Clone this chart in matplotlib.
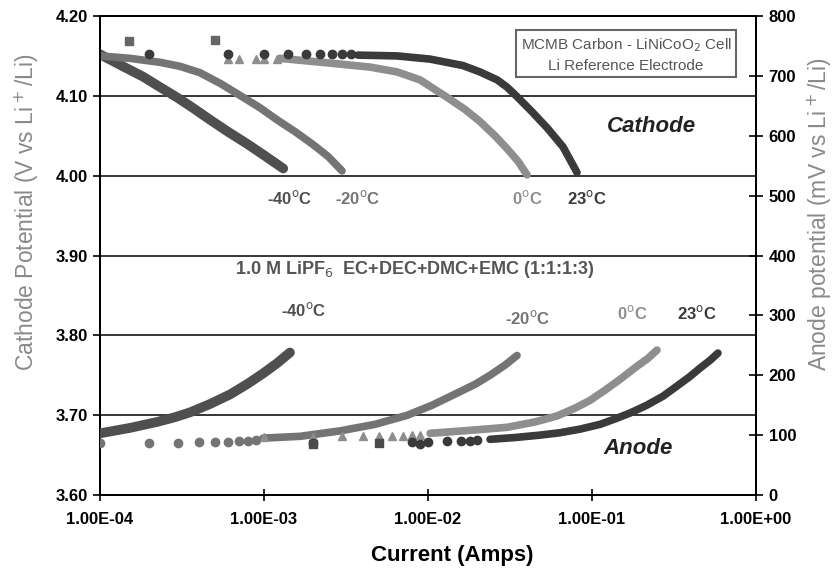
import matplotlib.pyplot as plt
from matplotlib.ticker import FixedLocator, FuncFormatter

plt.rcParams['font.family'] = ['Liberation Sans', 'DejaVu Sans']

# cathode curves (current in A, potential in V)
cath_m40_i = [1.0e-4, 1.32e-4, 1.83e-4, 2.32e-4, 2.95e-4, 3.74e-4, 4.69e-4, 6.03e-4, 7.87e-4, 1.01e-3, 1.31e-3]
cath_m40_v = [4.152, 4.139, 4.124, 4.111, 4.098, 4.084, 4.070, 4.055, 4.040, 4.025, 4.009]

cath_m20_i = [1.0e-4, 1.52e-4, 2.32e-4, 3.07e-4, 4.07e-4, 5.47e-4, 7.34e-4, 9.46e-4, 1.2e-3, 1.55e-3,
              1.99e-3, 2.46e-3, 2.99e-3]
cath_m20_v = [4.150, 4.147, 4.142, 4.137, 4.129, 4.115, 4.099, 4.085, 4.070, 4.055, 4.039, 4.024, 4.006]

cath_0_i = [1.25e-3, 2.53e-3, 4.43e-3, 6.47e-3, 8.94e-3, 1.31e-2, 1.68e-2, 2.07e-2, 2.56e-2, 3.03e-2,
            3.54e-2, 4.02e-2]
cath_0_v = [4.147, 4.141, 4.136, 4.130, 4.120, 4.098, 4.083, 4.068, 4.050, 4.034, 4.018, 4.001]

cath_23_i = [3.74e-3, 6.47e-3, 1.03e-2, 1.63e-2, 2.07e-2, 2.64e-2, 3.03e-2, 3.49e-2, 4.31e-2, 5.32e-2,
             6.66e-2, 8.1e-2]
cath_23_v = [4.151, 4.150, 4.146, 4.138, 4.130, 4.120, 4.111, 4.099, 4.080, 4.060, 4.036, 4.004]

# sparse first points (cathode)
cath_23_pts_i = [2.0e-4, 6.0e-4, 1.0e-3, 1.4e-3, 1.8e-3, 2.2e-3, 2.6e-3, 3.0e-3, 3.4e-3]
cath_23_pts_v = [4.153, 4.153, 4.153, 4.152, 4.152, 4.152, 4.152, 4.152, 4.152]
cath_0_pts_i = [6.0e-4, 7.0e-4, 9.0e-4, 1.0e-3, 1.2e-3]
cath_0_pts_v = [4.146, 4.146, 4.146, 4.146, 4.146]
cath_sq_i = [1.5e-4, 5.0e-4]
cath_sq_v = [4.169, 4.170]

# anode curves (current in A, potential in mV)
an_m40_i = [1.0e-4, 1.52e-4, 2.23e-4, 2.87e-4, 3.54e-4, 4.69e-4, 6.21e-4, 7.87e-4, 9.87e-4, 1.2e-3, 1.44e-3]
an_m40_mv = [103, 112, 122, 130, 138, 152, 168, 185, 203, 220, 238]

an_m20_pts_i = [1e-4, 2e-4, 3e-4, 4e-4, 5e-4, 6e-4, 7e-4, 8e-4, 9e-4]
an_m20_pts_mv = [87, 87, 87, 88, 88, 89, 90, 91, 92]
an_m20_i = [9.87e-4, 1.66e-3, 2.9e-3, 4.75e-3, 7.45e-3, 1.06e-2, 1.5e-2, 1.94e-2, 2.39e-2, 2.95e-2, 3.49e-2]
an_m20_mv = [95, 98, 107, 118, 133, 150, 170, 185, 200, 217, 233]

an_0_pts_i = [1e-3, 2e-3, 3e-3, 4e-3, 5e-3, 6e-3, 7e-3, 8e-3, 9e-3]
an_0_pts_mv = [97, 97, 98, 98, 98, 99, 99, 100, 100]
an_0_i = [1.03e-2, 1.8e-2, 3.03e-2, 4.49e-2, 6.12e-2, 7.87e-2, 9.72e-2, 1.2e-1, 1.48e-1, 1.88e-1,
          2.19e-1, 2.49e-1]
an_0_mv = [103, 108, 113, 122, 132, 145, 158, 175, 193, 215, 228, 242]

an_23_pts_i = [2e-3, 8e-3, 9e-3, 1e-2, 1.3e-2, 1.6e-2, 1.8e-2, 2.0e-2]
an_23_pts_mv = [87, 88, 86, 88, 90, 91, 91, 92]
an_23_i = [2.39e-2, 3.39e-2, 4.82e-2, 6.38e-2, 8.45e-2, 1.12e-1, 1.38e-1, 1.71e-1, 2.16e-1, 2.71e-1,
           3.3e-1, 3.96e-1, 4.56e-1, 5.25e-1, 5.86e-1]
an_23_mv = [93, 96, 100, 104, 110, 118, 127, 137, 150, 165, 182, 198, 212, 225, 237]

an_sq_i = [2e-3, 5e-3]
an_sq_mv = [85, 87]

x_ticks = [1e-4, 1e-3, 1e-2, 1e-1, 1e0]
x_labels = ['1.00E-04', '1.00E-03', '1.00E-02', '1.00E-01', '1.00E+00']

c_m40 = '#4f4f4f'
c_m20 = '#747474'
c_0 = '#8e8e8e'
c_23 = '#3a3a3a'

fig = plt.figure(figsize=(8.36, 5.73), dpi=100)
ax = fig.add_axes([100 / 836, 1 - 495 / 573, 656 / 836, 479 / 573])
ax2 = ax.twinx()

ax.set_xscale('log')
ax.set_xlim(1e-4, 1)
ax.set_ylim(3.6, 4.2)
ax2.set_ylim(0, 800)

for g in [3.7, 3.8, 3.9, 4.0, 4.1]:
    ax.axhline(g, color='black', lw=1.1, zorder=1)

st = dict(solid_capstyle='round', solid_joinstyle='round', zorder=3)
ax.plot(cath_m40_i, cath_m40_v, color=c_m40, lw=7, **st)
ax.plot(cath_m20_i, cath_m20_v, color=c_m20, lw=5.5, **st)
ax.plot(cath_0_i, cath_0_v, color=c_0, lw=5.5, **st)
ax.plot(cath_23_i, cath_23_v, color=c_23, lw=5.5, **st)
ax.plot(cath_0_pts_i, cath_0_pts_v, '^', color=c_0, ms=6, zorder=3)
ax.plot(cath_23_pts_i, cath_23_pts_v, 'o', color=c_23, ms=6, zorder=4)
ax.plot(cath_sq_i, cath_sq_v, 's', color='#666666', ms=6, zorder=4)

ax2.plot(an_m40_i, an_m40_mv, color=c_m40, lw=7, **st)
ax2.plot(an_m20_pts_i, an_m20_pts_mv, 'o', color=c_m20, ms=6, zorder=3)
ax2.plot(an_m20_i, an_m20_mv, color=c_m20, lw=5.5, **st)
ax2.plot(an_0_pts_i, an_0_pts_mv, '^', color=c_0, ms=6, zorder=3)
ax2.plot(an_0_i, an_0_mv, color=c_0, lw=5.5, **st)
ax2.plot(an_23_pts_i, an_23_pts_mv, 'o', color=c_23, ms=6, zorder=4)
ax2.plot(an_23_i, an_23_mv, color=c_23, lw=5.5, **st)
ax2.plot(an_sq_i, an_sq_mv, 's', color='#4a4a4a', ms=6, zorder=4)

ax.xaxis.set_major_locator(FixedLocator(x_ticks))
ax.xaxis.set_minor_locator(FixedLocator([]))
ax.set_xticklabels(x_labels, fontsize=12, fontweight='bold')
ax.set_yticks([3.6, 3.7, 3.8, 3.9, 4.0, 4.1, 4.2])
ax.yaxis.set_major_formatter(FuncFormatter(lambda v, p: '%.2f' % v))
ax2.set_yticks(range(0, 801, 100))
for t in ax.get_yticklabels() + ax2.get_yticklabels():
    t.set_fontsize(12)
    t.set_fontweight('bold')
ax.tick_params(axis='x', direction='inout', length=8, width=1.2, pad=8)
ax.tick_params(axis='y', direction='out', length=5, width=1.2, pad=4)
ax2.tick_params(axis='y', direction='inout', length=10, width=1.2, pad=4)
for a in (ax, ax2):
    for s in a.spines.values():
        s.set_linewidth(1.3)

fig.text(452 / 836, 1 - 556 / 573, 'Current (Amps)', fontsize=16, fontweight='bold',
         ha='center', va='center')
fig.text(27 / 836, 1 - 212 / 573, 'Cathode Potential (V vs Li$^+$/Li)', fontsize=16.5,
         color='#8a8a8a', rotation=90, ha='center', va='center')
fig.text(820 / 836, 1 - 214 / 573, 'Anode potential (mV vs Li$^+$/Li)', fontsize=16.5,
         color='#8a8a8a', rotation=90, ha='center', va='center')

ax.text(0.84, 0.77, 'Cathode', transform=ax.transAxes, fontsize=16, fontweight='bold',
        style='italic', color='#222222', ha='center', va='center')
ax.text(0.82, 0.098, 'Anode', transform=ax.transAxes, fontsize=16, fontweight='bold',
        style='italic', color='#222222', ha='center', va='center')
ax.text(0.48, 0.47, '1.0 M LiPF$_6$  EC+DEC+DMC+EMC (1:1:1:3)', transform=ax.transAxes,
        fontsize=13, fontweight='bold', color='#555555', ha='center', va='center')
ax.text(0.802, 0.919, 'MCMB Carbon - LiNiCoO$_2$ Cell\nLi Reference Electrode', transform=ax.transAxes,
        fontsize=11, color='#555555', ha='center', va='center', linespacing=1.4,
        bbox=dict(boxstyle='square,pad=0.3', fc='white', ec='#666666', lw=1.5))

for xp, yp, txt, col in [(290, 198, '-40$^{\\rm o}$C', c_m40), (358, 198, '-20$^{\\rm o}$C', c_m20),
                         (527, 198, '0$^{\\rm o}$C', c_0), (587, 198, '23$^{\\rm o}$C', c_23),
                         (304, 310, '-40$^{\\rm o}$C', c_m40), (528, 318, '-20$^{\\rm o}$C', c_m20),
                         (632, 313, '0$^{\\rm o}$C', c_0), (697, 313, '23$^{\\rm o}$C', c_23)]:
    ax.text((xp - 100) / 656, 1 - (yp - 16) / 479, txt, transform=ax.transAxes, fontsize=12,
            fontweight='bold', color=col, ha='center', va='center')

fig.savefig('out.png', dpi=100)
